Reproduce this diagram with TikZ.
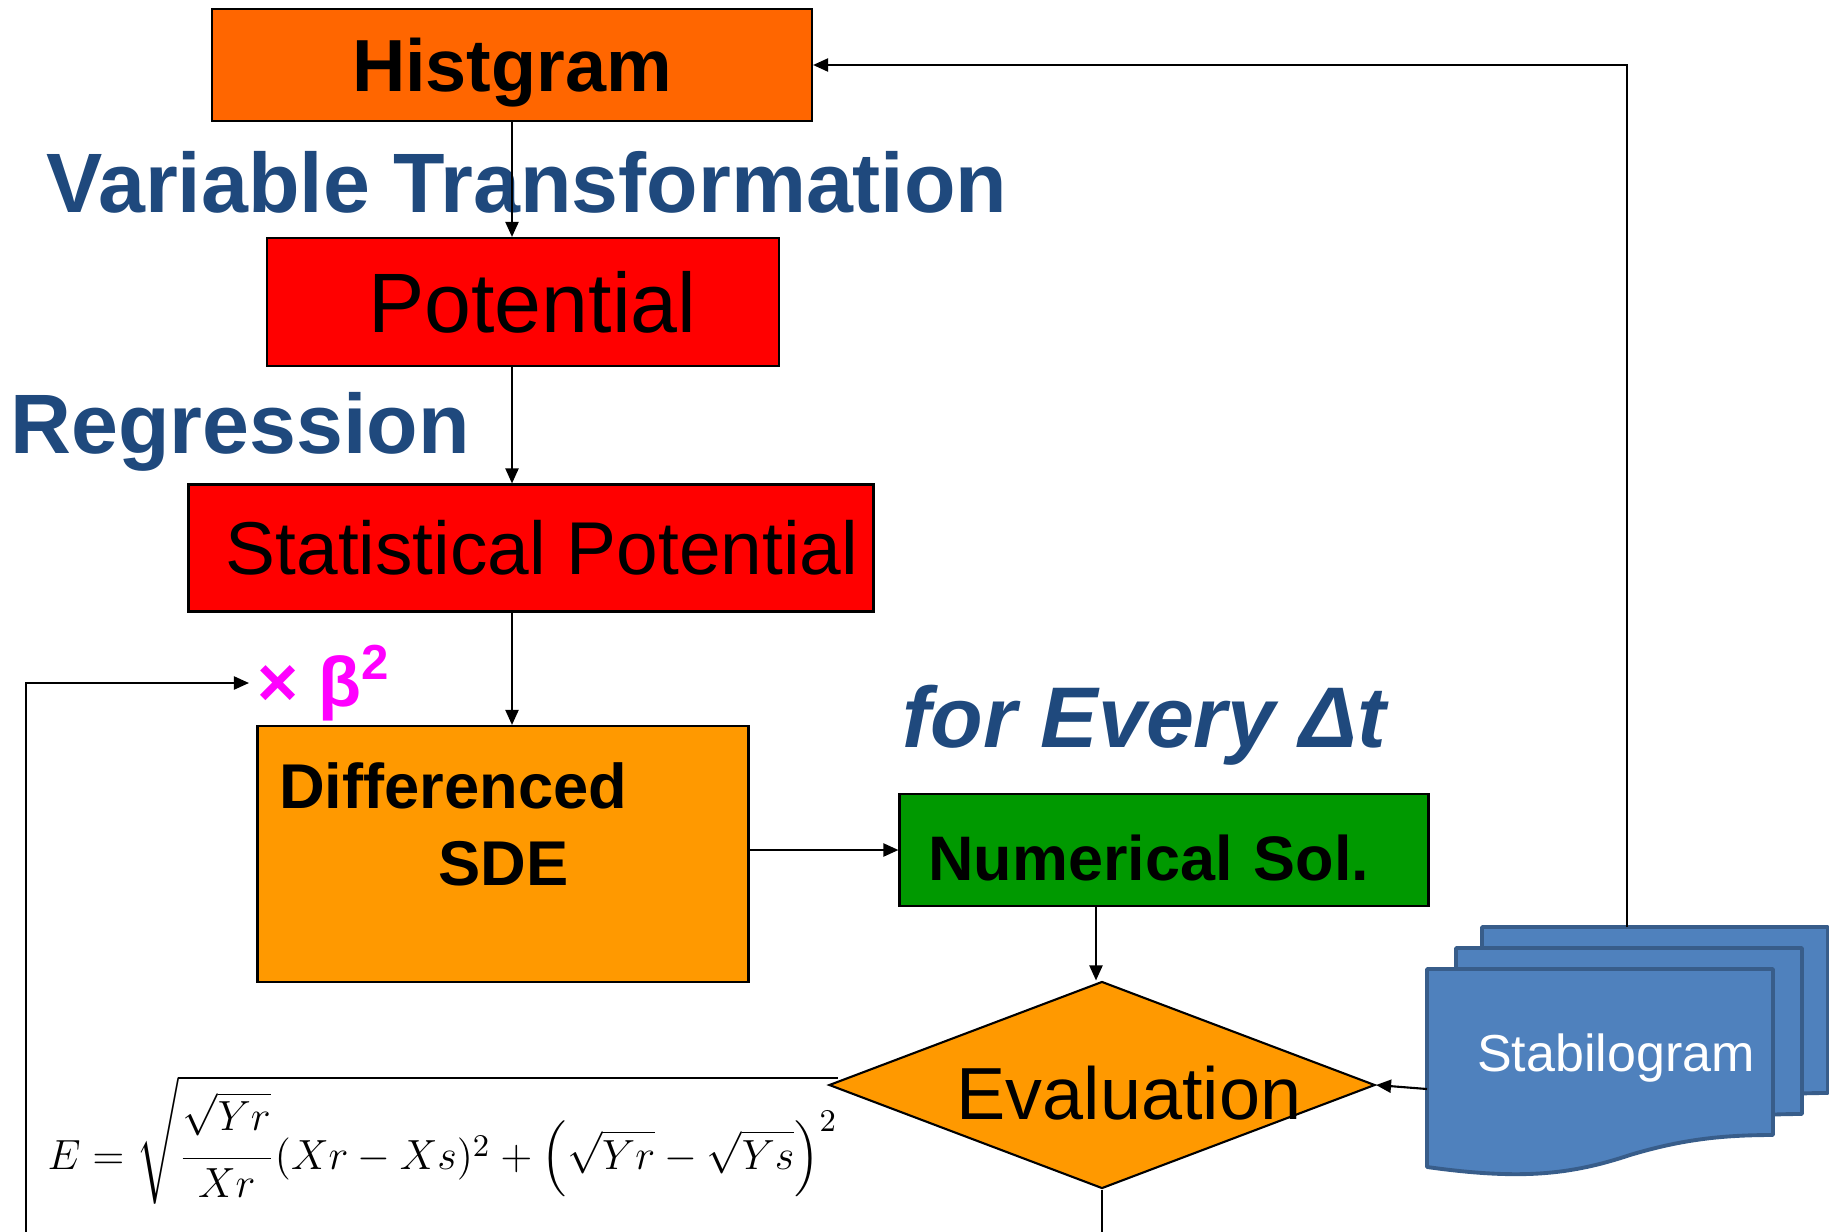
\documentclass[tikz,border=0pt]{standalone}
\usepackage[no-math]{fontspec}
\usepackage{amsmath}
\setmainfont{Liberation Sans}
\usetikzlibrary{shapes.geometric,arrows.meta}

\definecolor{historange}{HTML}{FF6600}
\definecolor{boxred}{HTML}{FF0000}
\definecolor{sdeorange}{HTML}{FF9900}
\definecolor{solgreen}{HTML}{009900}
\definecolor{headblue}{HTML}{1F497D}
\definecolor{betapink}{HTML}{FF00FF}
\definecolor{stabfill}{HTML}{4F81BD}
\definecolor{stabline}{HTML}{385D8A}

\tikzset{
  box/.style={draw,line width=0.6pt,inner sep=0pt},
  head/.style={text=headblue,inner sep=0pt,font=\bfseries\fontsize{24}{28}\selectfont},
  flow/.style={-{Triangle[length=1.5mm,width=1.3mm]},line width=0.6pt},
  stabdoc/.style={fill=stabfill,draw=stabline,line width=1.1pt,line join=round},
}

\begin{document}
\begin{tikzpicture}
\useasboundingbox (0,0) rectangle (18.29,-12.32);
\clip (0,0) rectangle (18.29,-12.32);

% left column
\node[box,fill=historange,minimum width=6cm,minimum height=1.12cm,text depth=0pt,font=\bfseries\fontsize{21}{25}\selectfont] (hist) at (5.12,-0.65) {Histgram};
\node[head] (vt) at (5.27,-1.82) {Variable Transformation};
\node[box,fill=boxred,minimum width=5.12cm,minimum height=1.28cm,font=\fontsize{24}{28}\selectfont] (pot) at (5.23,-3.02) {\hspace*{0.19cm}Potential};
\node[head] (reg) at (2.40,-4.32) {Regression};
\node[box,fill=boxred,minimum width=6.85cm,minimum height=1.27cm,font=\fontsize{21.3}{25}\selectfont] (stat) at (5.31,-5.48) {\hspace*{0.22cm}Statistical Potential};
\node[text=betapink,inner sep=0.08cm,font=\bfseries\fontsize{20}{24}\selectfont] (beta) at (3.24,-6.83) {× β\textsuperscript{2}};
\node[box,fill=sdeorange,minimum width=4.91cm,minimum height=2.56cm,
  label={[anchor=north west,align=left,inner sep=0pt,xshift=0.22cm,yshift=-0.37cm,font=\bfseries\fontsize{18}{21.9}\selectfont]north west:{Differenced\\\hspace*{1.59cm}SDE}}] (sde) at (5.03,-8.54) {};

% right side
\node[text=headblue,inner sep=0pt,font=\bfseries\itshape\fontsize{24.5}{28}\selectfont] (dt) at (11.44,-7.25) {for Every Δt};
\node[box,fill=solgreen,minimum width=5.29cm,minimum height=1.12cm,text width=4.71cm,text height=0.61cm,align=left,font=\bfseries\fontsize{17.9}{21}\selectfont] (num) at (11.64,-8.50) {Numerical Sol.};
\node[box,diamond,fill=sdeorange,minimum width=5.46cm,minimum height=2.07cm,
  label={[xshift=0.27cm,yshift=-0.08cm,font=\fontsize{21}{25}\selectfont]center:Evaluation}] (eval) at (11.02,-10.85) {};

% stack of stabilogram sheets
\foreach \dx/\dy in {0.55/0.42,0.29/0.21,0/0}
  \draw[stabdoc,shift={(\dx,\dy)}] (14.27,-9.69) -- (17.73,-9.69) -- (17.73,-11.35)
    .. controls (17.2,-11.35) and (16.8,-11.40) .. (16.3,-11.55)
    .. controls (15.7,-11.75) and (15.2,-11.80) .. (14.27,-11.67) -- cycle;
\node[text=white,inner sep=0pt,font=\fontsize{14.8}{18}\selectfont] (stab) at (16.16,-10.58) {Stabilogram};
\coordinate (stabin) at (14.27,-10.89);
\coordinate (stabtop) at (16.27,-9.27);

% error formula
\node[anchor=base west,inner sep=0pt,font=\fontsize{12.8}{15}\selectfont] (err) at (0.47,-11.69)
  {$E=\sqrt{\rule[-0.32cm]{0pt}{1.17cm}\dfrac{\sqrt{Yr}\rule[-0.48em]{0pt}{0.48em}}{Xr}(Xr-Xs)^2+\left(\sqrt{Yr}-\sqrt{Ys}\right)^2}$};

% connectors
\draw[flow] (hist.south) -- (hist.south |- pot.north);
\draw[flow] (pot.south -| hist.south) -- (stat.north -| hist.south);
\draw[flow] (stat.south -| hist.south) -- (sde.north -| hist.south);
\draw[flow] (sde.east |- num.west) -- (num.west);
\draw[flow] ([xshift=-0.06cm]num.south -| eval.north) -- ([xshift=-0.06cm]eval.north);
\draw[flow] (stabin) -- (eval.east);
\draw[flow] (stabtop) |- (hist.east);
\coordinate (loop) at (0.26,-12.8);
\draw[flow] (eval.south) |- (loop) |- (beta.west);
\end{tikzpicture}
\end{document}
